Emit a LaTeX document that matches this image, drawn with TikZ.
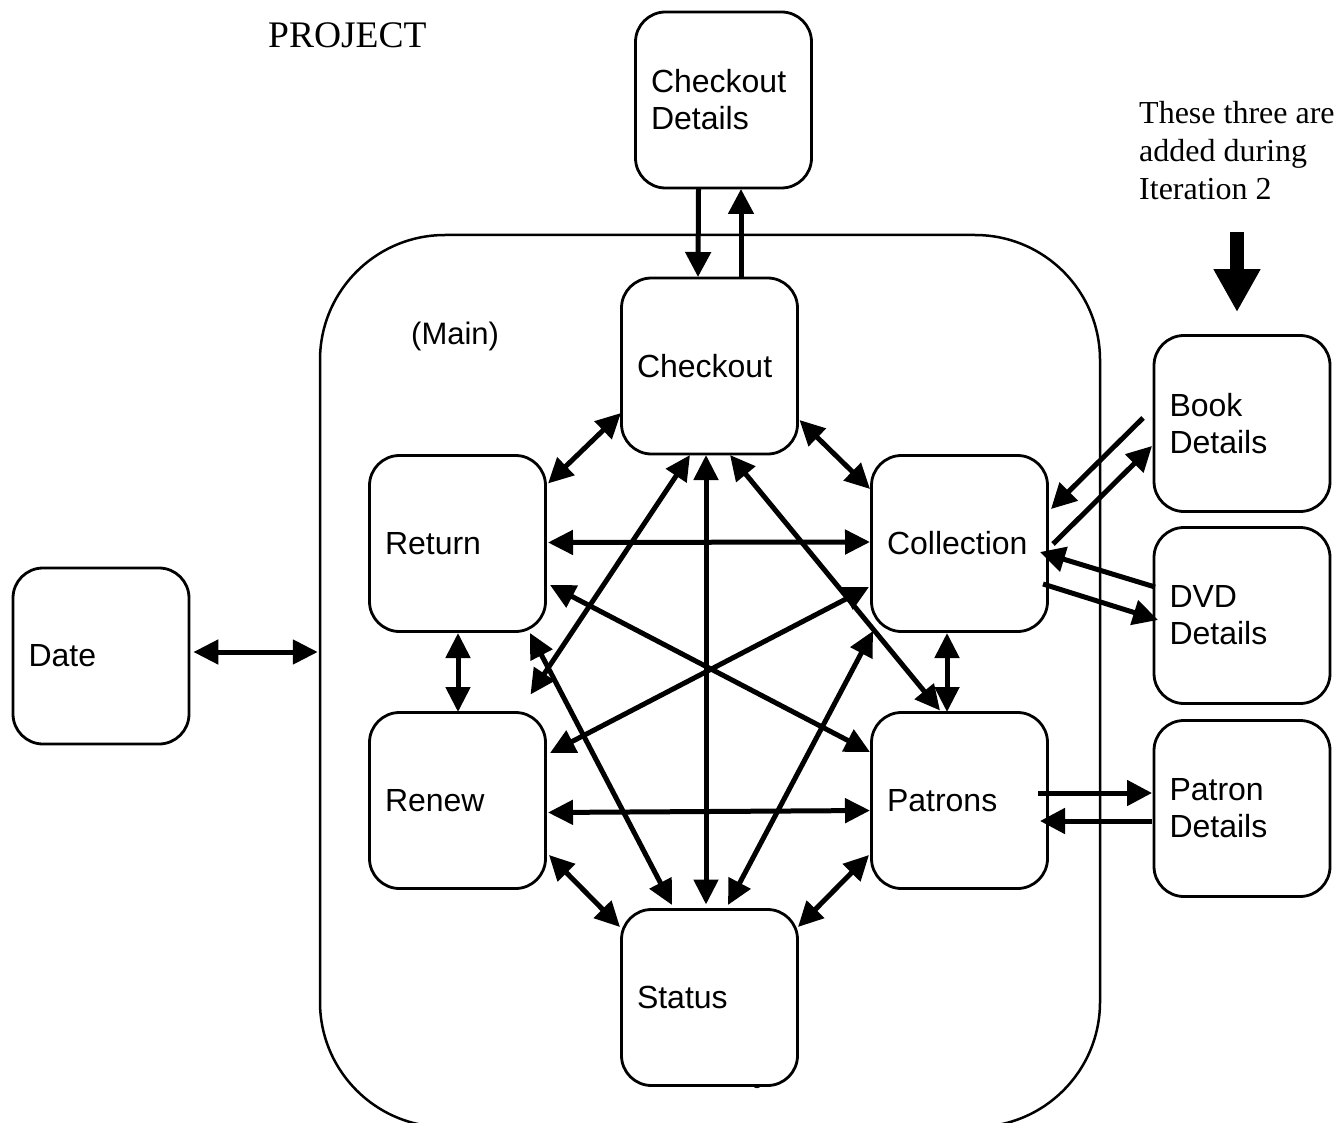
\documentclass[tikz,border=0pt]{standalone}
\usepackage{fontspec}
\setmainfont{Liberation Sans}
\newfontfamily\serifnote{Liberation Serif}
\usetikzlibrary{arrows.meta,calc}
\begin{document}
\begin{tikzpicture}[x=1pt,y=-1pt,
  box/.style={draw, fill=white, line width=2.8pt, rounded corners=30pt,
    minimum width=176pt, minimum height=176pt, inner xsep=15.5pt,
    text width=145pt, align=left, font=\fontsize{32}{37}\selectfont},
  link/.style={line width=5pt, {Triangle[length=25pt,width=24pt]}-{Triangle[length=25pt,width=24pt]}},
  one/.style={line width=5pt, -{Triangle[length=25pt,width=25pt]}},
  bigarrow/.style={line width=14pt, -{Triangle[length=43pt,width=44pt]}},
]
\useasboundingbox (0,0) rectangle (1343,1123);
\fill[white] (0,0) rectangle (1343,1123);

% container
\node[draw, line width=2.5pt, rounded corners=125pt, minimum width=780pt, minimum height=892pt] (main) at (710,681) {};

% free texts
\node[font=\serifnote\fontsize{37.5}{40}\selectfont, anchor=west, inner sep=0pt] (project) at (268,35) {PROJECT};
\node[font=\fontsize{31}{37}\selectfont, anchor=west, inner sep=0pt] (mainlbl) at (411,336) {(Main)};
\node[font=\serifnote\fontsize{32}{38}\selectfont, align=left, anchor=north west, inner sep=0pt] (note) at (1139,101) {These three are\\added during\\Iteration 2};
\node[font=\fontsize{16}{18}\selectfont, inner sep=0pt] (pagenum) at (757,1083) {8};

% boxes
\node[box] (codet) at (723.5,100) {Checkout\\Details};
\node[box] (checkout) at (709.5,366) {Checkout};
\node[box] (return) at (457.5,543.5) {Return};
\node[box] (collection) at (959.5,543.5) {Collection};
\node[box] (renew) at (457.5,800.5) {Renew};
\node[box] (patrons) at (959.5,800.5) {Patrons};
\node[box] (status) at (709.5,997.5) {Status};
\node[box] (date) at (101,656) {Date};
\node[box] (book) at (1242,423.5) {Book\\Details};
\node[box] (dvd) at (1242,615.5) {DVD\\Details};
\node[box] (patrondet) at (1242,808.5) {Patron\\Details};

% checkout details
\draw[one] ($(codet)+(-25,89)$) -- ($(checkout)+(-11.5,-89)$);
\draw[one] ($(checkout)+(31.5,-88)$) -- ($(codet)+(17.5,89)$);

% inner network
\draw[link] ($(checkout)+(-88.5,47)$) -- ($(return)+(90.5,-60)$);
\draw[link] ($(checkout)+(90,54)$) -- ($(collection)+(-89.5,-54.5)$);
\draw[link] ($(return)+(90.5,-1)$) -- ($(collection)+(-89.5,-1.5)$);
\draw[link] ($(checkout)+(-19.5,89)$) -- ($(renew)+(73,-106)$);
\draw[link] ($(checkout)+(-3.5,89)$) -- ($(status)+(-3.5,-93)$);
\draw[link] ($(checkout)+(20.5,89)$) -- ($(patrons)+(-19.5,-90)$);
\draw[link] ($(return)+(92.5,41.5)$) -- ($(patrons)+(-89.5,-48.5)$);
\draw[link] ($(collection)+(-90.5,43.5)$) -- ($(renew)+(92.5,-47.5)$);
\draw[link] ($(return)+(72.5,89.5)$) -- ($(status)+(-37.5,-92.5)$);
\draw[link] ($(collection)+(-86.5,87.5)$) -- ($(status)+(18.5,-92.5)$);
\draw[link] ($(return)+(0.5,89.5)$) -- ($(renew)+(0.5,-88.5)$);
\draw[link] ($(collection)+(-12.5,89.5)$) -- ($(patrons)+(-12.5,-88.5)$);
\draw[link] ($(renew)+(90.5,12)$) -- ($(patrons)+(-89.5,10)$);
\draw[link] ($(renew)+(91.5,54.5)$) -- ($(status)+(-89.5,-70.5)$);
\draw[link] ($(patrons)+(-90.5,54.5)$) -- ($(status)+(88.5,-70.5)$);

% date
\draw[link] ($(date.east)+(3,-4)$) -- ($(main.west)+(-1,-29)$);

% details
\draw[one] ($(book)+(-99,-5.5)$) -- ($(collection)+(91.5,-34.5)$);
\draw[one] ($(collection)+(93.5,0.5)$) -- ($(book)+(-90,22.5)$);
\draw[one] ($(dvd)+(-87,-28.5)$) -- ($(collection)+(80.5,8.5)$);
\draw[one] ($(collection)+(83.5,40.5)$) -- ($(dvd)+(-84,4.5)$);
\draw[one] ($(patrons)+(78.5,-7.5)$) -- ($(patrondet)+(-90,-15.5)$);
\draw[one] ($(patrondet)+(-90,12.5)$) -- ($(patrons)+(80.5,20.5)$);

% iteration arrow
\draw[bigarrow] ($(book.north)+(-5,-102)$) -- ($(book.north)+(-5,-22)$);
\end{tikzpicture}
\end{document}
